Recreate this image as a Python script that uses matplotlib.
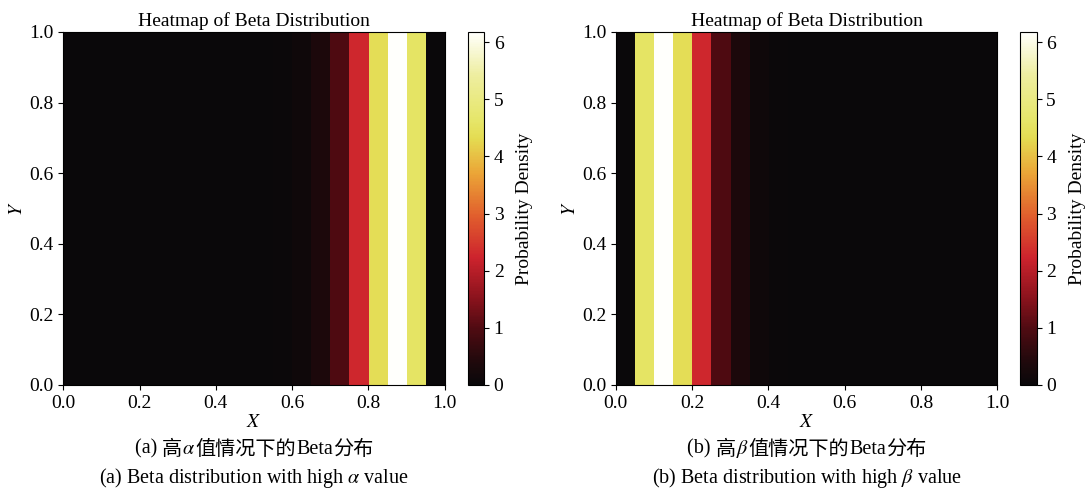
import numpy as np
import matplotlib
matplotlib.use('Agg')
import matplotlib.pyplot as plt
from matplotlib.colors import LinearSegmentedColormap

plt.rcParams['font.family'] = ['Liberation Serif', 'Noto Sans CJK SC']
plt.rcParams['mathtext.fontset'] = 'stix'

# density per column (20 bins over 0..1)
high_alpha = [0, 0, 0, 0, 0, 0, 0, 0, 0, 0.001, 0.005, 0.03, 0.10, 0.34,
              0.97, 2.29, 4.39, 6.18, 4.58, 0]
high_beta = [0, 4.58, 6.18, 4.39, 2.29, 0.97, 0.34, 0.10, 0.03, 0.005,
             0.001, 0, 0, 0, 0, 0, 0, 0, 0, 0]
cbar_ticks = [0, 1, 2, 3, 4, 5, 6]

titles = ['Heatmap of Beta Distribution', 'Heatmap of Beta Distribution']
# chinese caption split so the greek letter can be italic math
cap_cn = [['(a) ', '高', '$\\alpha$', '值情况下的', 'Beta', '分布'],
          ['(b) ', '高', '$\\beta$', '值情况下的', 'Beta', '分布']]
cap_en = ['(a) Beta distribution with high $\\alpha$ value',
          '(b) Beta distribution with high $\\beta$ value']

# colormap sampled from the reference colorbar
nodes = [(0.0, (10, 8, 10)), (0.06, (30, 9, 12)), (0.16, (80, 11, 18)),
         (0.24, (135, 18, 28)), (0.36, (205, 35, 45)), (0.48, (225, 95, 45)),
         (0.60, (235, 165, 55)), (0.70, (228, 220, 82)), (0.75, (230, 230, 105)),
         (0.88, (238, 238, 160)), (1.0, (255, 255, 252))]
cmap = LinearSegmentedColormap.from_list(
    'beta_hot', [(p, tuple(c / 255 for c in rgb)) for p, rgb in nodes])

fig = plt.figure(figsize=(10.9, 4.91), dpi=100)
ax_pos = [[0.058, 0.216, 0.350, 0.719], [0.565, 0.216, 0.350, 0.719]]
cb_pos = [[0.429, 0.216, 0.015, 0.719], [0.936, 0.216, 0.015, 0.719]]

renderer = fig.canvas.get_renderer()

for i, vals in enumerate([high_alpha, high_beta]):
    ax = fig.add_axes(ax_pos[i])
    grid = np.tile(np.array(vals), (20, 1))
    im = ax.imshow(grid, cmap=cmap, extent=[0, 1, 0, 1], origin='lower',
                   aspect='auto', vmin=0, vmax=max(vals), interpolation='nearest')
    ax.set_xticks(np.arange(0, 1.01, 0.2))
    ax.set_yticks(np.arange(0, 1.01, 0.2))
    ax.tick_params(labelsize=14)
    ax.set_title(titles[i], fontsize=14, pad=4)
    ax.set_xlabel('$X$', fontsize=14, labelpad=2)
    ax.set_ylabel('$Y$', fontsize=14, labelpad=2)
    cax = fig.add_axes(cb_pos[i])
    cb = fig.colorbar(im, cax=cax, ticks=cbar_ticks)
    cb.ax.tick_params(labelsize=14)
    cb.set_label('Probability Density', fontsize=14, labelpad=9)
    cx = ax_pos[i][0] + ax_pos[i][2] / 2

    # chinese line: lay pieces side by side, then centre the whole line
    pieces = []
    for s in cap_cn[i]:
        fam = ['Noto Sans CJK SC'] if not s.isascii() else ['Liberation Serif']
        t = fig.text(0, 0.085, s, ha='left', va='center', fontsize=14.5, family=fam)
        pieces.append(t)
    widths = [t.get_window_extent(renderer).width / fig.bbox.width for t in pieces]
    x = cx - sum(widths) / 2
    for t, w in zip(pieces, widths):
        t.set_x(x)
        x += w
    fig.text(cx, 0.027, cap_en[i], ha='center', va='center', fontsize=14.5)

fig.savefig('out.png', dpi=100)
